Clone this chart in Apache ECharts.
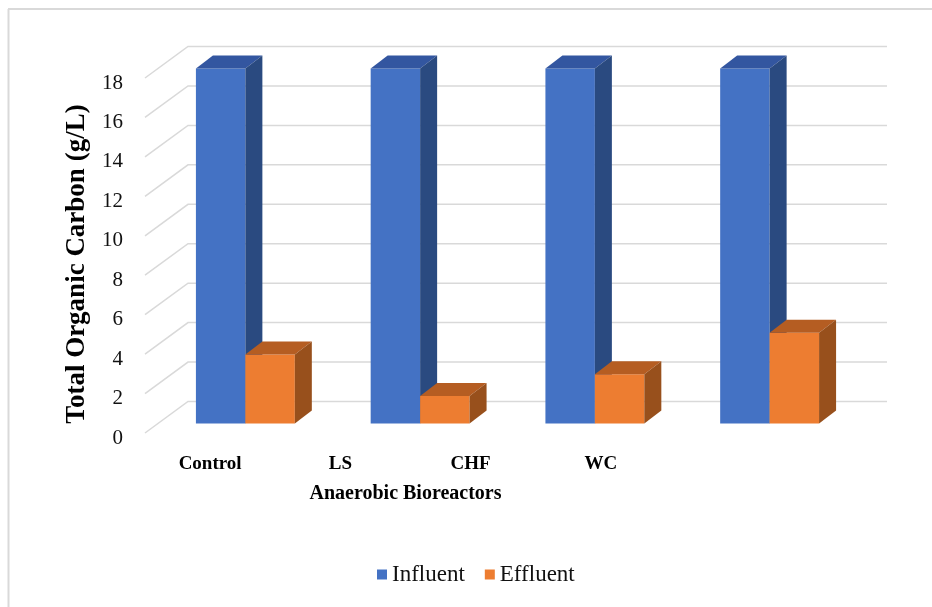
<!DOCTYPE html>
<html>
<head>
<meta charset="utf-8">
<script src="https://cdn.jsdelivr.net/npm/echarts@6/dist/echarts.min.js"></script>
<style>
  html, body { margin: 0; padding: 0; background: #fff; }
  #chart { width: 932px; height: 607px; }
</style>
</head>
<body>
<div id="chart"></div>
<script>
const categories = ['Control', 'LS', 'CHF', 'WC'];
const influent = [18, 18, 18, 18];
const effluent = [3.5, 1.4, 2.5, 4.6];
const yTicks = [0, 2, 4, 6, 8, 10, 12, 14, 16, 18];

const FONT = 'Liberation Serif';
// 3d look: offset of the bar front from the side wall front edge, bar depth, back wall offset
const barOff = [13, -9.5];
const barDepth = [17, -13];
const wallOff = [43, -31.5];

function barRenderer(side, front, top, sideCol) {
  return function (params, api) {
    const base = api.coord([api.value(0), 0]);
    const tip = api.coord([api.value(0), api.value(1)]);
    const w = api.size([1, 0])[0] * 0.283;
    const x0 = (side === 0 ? base[0] - w : base[0]) + barOff[0];
    const yB = base[1] + barOff[1];
    const yT = tip[1] + barOff[1];
    const dx = barDepth[0], dy = barDepth[1];
    return {
      type: 'group',
      children: [
        { type: 'rect', shape: { x: x0, y: yT, width: w, height: yB - yT }, style: { fill: front } },
        { type: 'polygon', shape: { points: [[x0, yT], [x0 + w, yT], [x0 + w + dx, yT + dy], [x0 + dx, yT + dy]] }, style: { fill: top } },
        { type: 'polygon', shape: { points: [[x0 + w, yT], [x0 + w + dx, yT + dy], [x0 + w + dx, yB + dy], [x0 + w, yB]] }, style: { fill: sideCol } }
      ]
    };
  };
}

const chart = echarts.init(document.getElementById('chart'));
chart.setOption({
  backgroundColor: '#fff',
  animation: false,
  textStyle: { fontFamily: FONT },
  graphic: [
    { type: 'line', shape: { x1: 8.5, y1: 9, x2: 8.5, y2: 607 }, style: { stroke: '#d9d9d9', lineWidth: 2 } },
    { type: 'line', shape: { x1: 8, y1: 9, x2: 932, y2: 9 }, style: { stroke: '#d9d9d9', lineWidth: 2 } },
    {
      type: 'text', x: 77, y: 264, rotation: Math.PI / 2,
      style: {
        text: 'Total Organic Carbon (g/L)', font: 'bold 27px "Liberation Serif"',
        fill: '#000', align: 'center', verticalAlign: 'middle'
      }
    }
  ],
  legend: {
    data: ['Influent', 'Effluent'],
    left: 372,
    top: 558,
    icon: 'rect',
    itemWidth: 10,
    itemHeight: 10,
    itemGap: 20,
    textStyle: { fontFamily: FONT, fontSize: 23, color: '#111' }
  },
  grid: [
    { left: 145, right: 88, top: 78, bottom: 174 },
    { left: 145, right: 266, top: 78, bottom: 174 }
  ],
  xAxis: [
    {
      type: 'category', gridIndex: 0, data: categories,
      axisLine: { show: false }, axisTick: { show: false }, axisLabel: { show: false }
    },
    {
      type: 'category', gridIndex: 1, data: categories,
      axisLine: { show: false }, axisTick: { show: false },
      axisLabel: { fontFamily: FONT, fontWeight: 'bold', fontSize: 19, color: '#000', margin: 22 },
      name: 'Anaerobic Bioreactors', nameLocation: 'middle', nameGap: 51,
      nameTextStyle: { fontFamily: FONT, fontWeight: 'bold', fontSize: 20, color: '#000' }
    }
  ],
  yAxis: [
    {
      type: 'value', gridIndex: 0, min: 0, max: 18, interval: 2,
      axisLine: { show: false }, axisTick: { show: false }, splitLine: { show: false },
      axisLabel: { fontFamily: FONT, fontSize: 21, color: '#111', margin: 22, verticalAlign: 'top', lineHeight: 10 }
    },
    { type: 'value', gridIndex: 1, min: 0, max: 18, show: false }
  ],
  series: [
    {
      name: 'walls',
      type: 'custom',
      xAxisIndex: 0, yAxisIndex: 0,
      clip: false, silent: true, z: 1,
      data: yTicks.map(v => [0, v]),
      renderItem: function (params, api) {
        const y = api.coord([0, api.value(1)])[1];
        const cs = params.coordSys;
        const x0 = cs.x;
        const xb = x0 + wallOff[0];
        return {
          type: 'polyline',
          shape: { points: [[x0, y], [xb, y + wallOff[1]], [cs.x + cs.width + wallOff[0], y + wallOff[1]]] },
          style: { stroke: '#d9d9d9', lineWidth: 1.5, fill: null }
        };
      }
    },
    {
      name: 'Influent',
      type: 'custom',
      xAxisIndex: 0, yAxisIndex: 0,
      clip: false, z: 2,
      itemStyle: { color: '#4472C4' },
      encode: { x: 0, y: 1 },
      data: influent.map((v, i) => [i, v]),
      renderItem: barRenderer(0, '#4472C4', '#3356A0', '#2A4A80')
    },
    {
      name: 'Effluent',
      type: 'custom',
      xAxisIndex: 0, yAxisIndex: 0,
      clip: false, z: 3,
      itemStyle: { color: '#ED7D31' },
      encode: { x: 0, y: 1 },
      data: effluent.map((v, i) => [i, v]),
      renderItem: barRenderer(1, '#ED7D31', '#B55D22', '#98501C')
    }
  ]
});
</script>
</body>
</html>
